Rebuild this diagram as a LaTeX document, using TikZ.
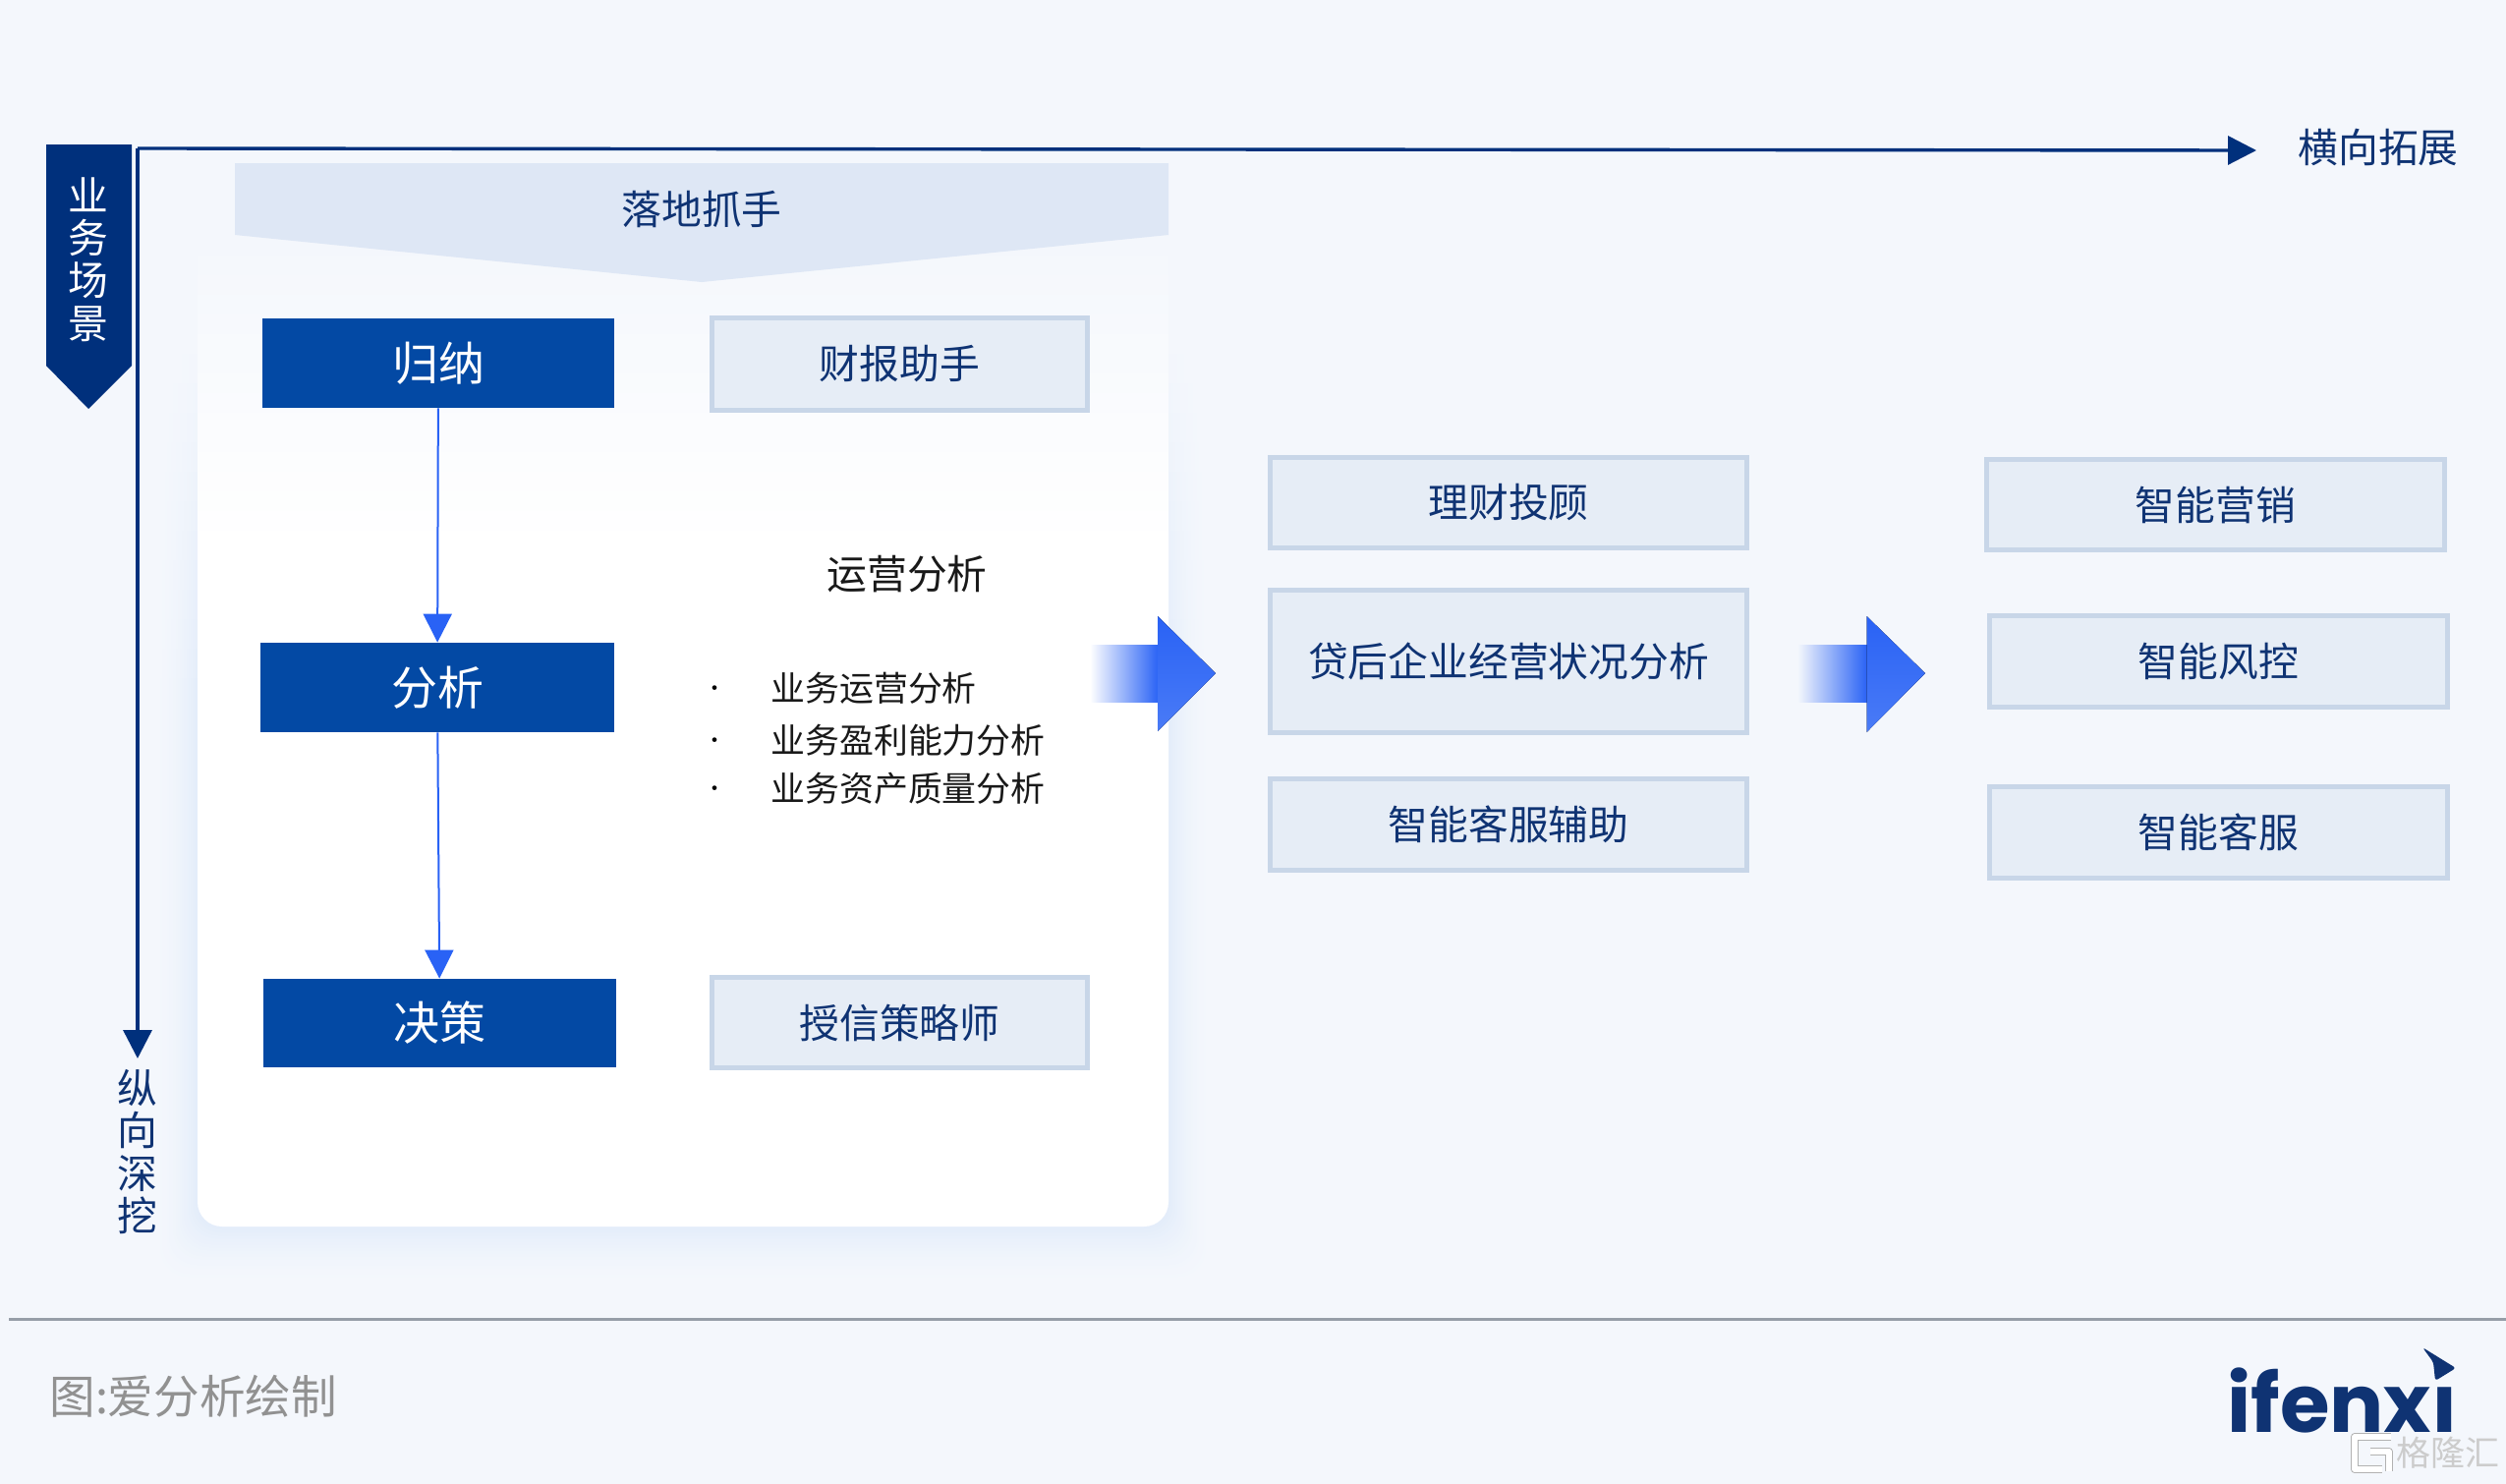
\documentclass[tikz,border=0pt]{standalone}
\usepackage{fontspec}
\setmainfont{Noto Sans CJK SC}
\newfontfamily\logofont{Poppins}
\usetikzlibrary{arrows.meta}
\definecolor{bgc}{HTML}{F4F7FC}
\definecolor{navy}{HTML}{00307C}
\definecolor{txtnavy}{HTML}{0F3373}
\definecolor{blockc}{HTML}{0349A4}
\definecolor{vivid}{HTML}{2962F5}
\definecolor{vividl}{HTML}{4A7BF6}
\definecolor{lbox}{HTML}{E6EDF6}
\definecolor{lboxb}{HTML}{C8D6E8}
\definecolor{headc}{HTML}{DEE7F5}
\definecolor{shadedge}{HTML}{E2ECFA}
\newcommand{\upby}[2]{\raisebox{#1}{#2}}
\tikzset{
  lightbox/.style={draw=lboxb,fill=lbox,line width=2.5pt,inner sep=0pt,text=txtnavy,font=\fontsize{20.4}{24}\selectfont},
  darkbox/.style={fill=blockc,inner sep=0pt,text=white,font=\fontsize{23.5}{26}\selectfont},
  flowarrow/.style={draw=vivid,line width=1pt,-{Triangle[length=14.5pt,width=14.5pt]}},
  axisarrow/.style={draw=navy,line width=1.7pt,-{Triangle[length=14.5pt,width=14.5pt]}},
  vtext/.style={align=center,inner sep=0pt,font=\fontsize{20.4}{21.7}\selectfont},
  listtext/.style={anchor=west,inner sep=0pt,text=black!90,font=\fontsize{17.45}{20}\selectfont},
  dotmark/.style={inner sep=0pt,text=black,font=\fontsize{11}{14}\selectfont},
}
\begin{document}
\begin{tikzpicture}[x=0.5pt,y=-0.5pt]
\path[use as bounding box,fill=bgc] (0,0) rectangle (2550,1510);
% card shadow: opaque nested rectangles, banded in height
\foreach \k in {1,...,12}{
  \pgfmathsetmacro{\yA}{360+30*(\k-1)}
  \pgfmathsetmacro{\yB}{\k==12 ? 1400 : 360+30*\k}
  \begin{scope}
    \clip (0,\yA) rectangle (2550,\yB);
    \foreach \i in {20,19,...,1}{
      \pgfmathsetmacro{\p}{100*(\k/12)*(1-\i/21)*(1-\i/21)}
      \fill[shadedge!\p!bgc,rounded corners=14pt]
        ({201-2.2*\i},200) rectangle ({1189+2.2*\i},{1248+3*\i});
    }
  \end{scope}
}
% card: top part fades from the background into white, in fine bands
\fill[bgc] (201,560) [rounded corners=12.5pt] -- (201,240) -- (1189,240) [sharp corners] -- (1189,560) -- cycle;
\foreach \k in {1,...,15}{
  \pgfmathsetmacro{\p}{100*\k/15}
  \fill[white!\p!bgc] (201,{240+20*\k}) rectangle (1189,560);
}
\fill[white] (201,540) [rounded corners=12.5pt] -- (201,1248) -- (1189,1248) [sharp corners] -- (1189,540) -- cycle;
% header banner
\fill[headc] (239,166) -- (1189,166) -- (1189,239) -- (714,287) -- (239,239) -- cycle;
\node[inner sep=0pt,text=txtnavy,font=\fontsize{20.4}{24}\selectfont] (hdr) at (714,213) {落地抓手};
% side banner
\fill[navy] (47,147) -- (134,147) -- (134,372) -- (90,416) -- (47,372) -- cycle;
\node[vtext,text=white] (scene) at (90,264) {业\\务\\场\\景};
% axes
\coordinate (orig) at (140,151);
\coordinate (hend) at (2296,153);
\coordinate (vend) at (140,1077);
\draw[axisarrow] (orig) -- (hend);
\draw[axisarrow] (orig) -- (vend);
\node[inner sep=0pt,text=txtnavy,font=\fontsize{20.4}{24}\selectfont] (hlab) at (2420,150) {横向拓展};
\node[vtext,text=txtnavy] (vlab) at (140,1172) {纵\\向\\深\\挖};
% dark boxes
\node[darkbox,minimum width=179pt,minimum height=45.5pt] (gui) at (446,369.5) {归纳};
\node[darkbox,minimum width=180pt,minimum height=45.5pt] (fen) at (445,699.5) {分析};
\node[darkbox,minimum width=179.5pt,minimum height=45pt] (jue) at (447.5,1041) {决策};
\draw[flowarrow] (gui) -- (fen);
\draw[flowarrow] (fen) -- (jue);
% light boxes
\node[lightbox,minimum width=191pt,minimum height=47pt] (cai) at (915.5,370.5) {财报助手};
\node[lightbox,minimum width=191pt,minimum height=46pt] (shou) at (915.5,1040.5) {授信策略师};
\node[lightbox,minimum width=242.5pt,minimum height=46pt] (licai) at (1535,511.5) {\upby{0.8pt}{理财投顾}};
\node[lightbox,minimum width=242.5pt,minimum height=72.5pt] (dai) at (1535,673) {\upby{1.5pt}{贷后企业经营状况分析}};
\node[lightbox,minimum width=242.5pt,minimum height=46.5pt] (kefu) at (1535,839) {\upby{1.5pt}{智能客服辅助}};
\node[lightbox,minimum width=233pt,minimum height=46pt] (ying) at (2254.5,513.5) {\upby{0.8pt}{智能营销}};
\node[lightbox,minimum width=233pt,minimum height=46.5pt] (feng) at (2257.5,673) {\upby{1.5pt}{智能风控}};
\node[lightbox,minimum width=233pt,minimum height=46.5pt] (kf) at (2257.5,847) {\upby{1.5pt}{智能客服}};
% middle texts
\node[inner sep=0pt,text=black!90,font=\fontsize{20.4}{24}\selectfont] (yy) at (923,584) {运营分析};
\node[dotmark] (d1) at (727,703) {·};
\node[dotmark] (d2) at (727,756) {·};
\node[dotmark] (d3) at (727,805) {·};
\node[listtext] (l1) at (784,700) {业务运营分析};
\node[listtext] (l2) at (784,753) {业务盈利能力分析};
\node[listtext] (l3) at (784,802) {业务资产质量分析};
% block arrows
\fill[left color=white,right color=vivid] (1109,656) rectangle (1179,714);
\fill[top color=vivid,bottom color=vividl] (1178,627) -- (1237,685) -- (1178,744) -- cycle;
\fill[left color=bgc,right color=vivid] (1829,656) rectangle (1900,714);
\fill[top color=vivid,bottom color=vividl] (1899.5,627) -- (1959,685) -- (1899.5,745) -- cycle;
% footer
\coordinate (fl) at (9,1342);
\coordinate (fr) at (2550,1342);
\draw[draw=black!20!lboxb!70!gray,line width=1.5pt] (fl) -- (fr);
\node[anchor=west,inner sep=0pt,text=black!43,font=\fontsize{23.3}{26}\selectfont] (src) at (50,1421) {图:爱分析绘制};
% logo
\node[anchor=base west,inner sep=0pt,text=txtnavy,font=\logofont\bfseries\fontsize{41}{50}\selectfont] (logo) at (2266,1457) {ifenxı};
\fill[txtnavy,rounded corners=1.5pt] (2465,1371) -- (2499,1392) -- (2478,1405) -- (2476,1386) -- cycle;
% watermark
\draw[black!30,line width=4pt,line join=round] (2433,1462) -- (2396,1462) -- (2396,1495) -- (2424,1495) (2412,1477) -- (2431,1477) -- (2431,1497);
\draw[white,line width=2.8pt,line join=round] (2433,1462) -- (2396,1462) -- (2396,1495) -- (2424,1495) (2412,1477) -- (2431,1477) -- (2431,1497);
\node[inner sep=0pt,text=black!20,font=\fontsize{17.5}{20}\selectfont] (wm) at (2491,1478) {格隆汇};
\end{tikzpicture}
\end{document}
